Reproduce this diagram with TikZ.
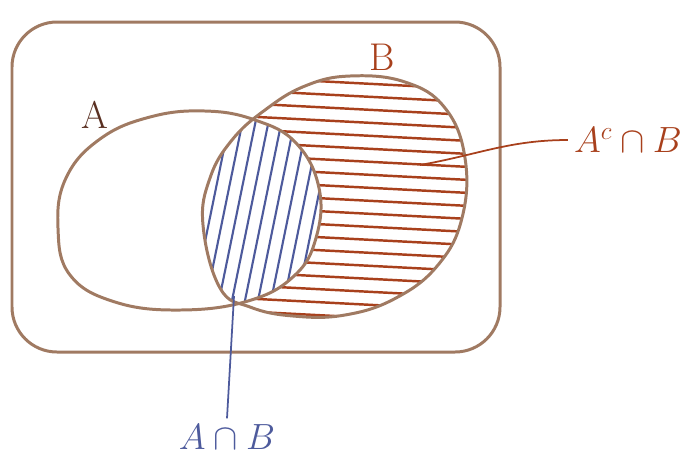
\documentclass[tikz,border=0pt]{standalone}
\usepackage{tikz}
\usetikzlibrary{arrows.meta,positioning}

\definecolor{penbrown}{HTML}{A07A62}
\definecolor{penred}{HTML}{A8401C}
\definecolor{penblue}{HTML}{4D5A9C}
\definecolor{pendark}{HTML}{5A3022}

\begin{document}
\begin{tikzpicture}[
    x=0.02cm, y=-0.02cm,
    every node/.style={font=\fontsize{22}{24}\selectfont},
    outline/.style={draw=penbrown, line width=1.7pt, line join=round},
    hatchred/.style={draw=penred, line width=1.4pt, line cap=round},
    hatchblue/.style={draw=penblue, line width=1.2pt, line cap=round},
    leader/.style={line width=1pt},
    setA/.style={insert path={plot[smooth cycle, tension=0.7] coordinates {(58,228) (66,178) (100,139) (150,117) (205,111) (255,120) (296,143) (319,188) (316,238) (294,276) (248,301) (180,310) (115,302) (70,275)}}},
    setB/.style={insert path={plot[smooth cycle, tension=0.7] coordinates {(203,225) (210,178) (232,140) (265,110) (305,86) (350,76) (405,82) (445,108) (465,158) (462,218) (438,265) (396,298) (345,315) (293,316) (250,307) (220,288)}}}
]
\useasboundingbox (0,0) rectangle (699,461);
% universe
\draw[outline, rounded corners=0.9cm] (12,22) rectangle (500,352);
% B without A
\begin{scope}
  \clip[setB];
  \begin{scope}[even odd rule]
    \clip (0,0) rectangle (699,461) [setA];
    \foreach \y in {62,75,...,330}
      \draw[hatchred] (200,\y) -- (470,\y+14);
  \end{scope}
\end{scope}
% A and B
\begin{scope}
  \clip[setA];
  \clip[setB];
  \foreach \x in {150,163,...,320}
    \draw[hatchblue] (\x,320) -- (\x+45,100);
\end{scope}
\draw[outline][setA];
\draw[outline][setB];
% labels
\node[text=pendark] (labA) at (95,115) {A};
\node[text=penred] (labB) at (382,57) {B};
\node[text=penred] (labAcB) at (628,140) {$A^{c}\cap B$};
\node[text=penblue] (labAB) at (227,437) {$A\cap B$};
\coordinate (ptAcB) at (420,165);
\coordinate (ptAB) at (234,296);
\draw[leader, draw=penred] (labAcB.west) to[out=180, in=10] (ptAcB);
\draw[leader, draw=penblue] (labAB.north) -- (ptAB);
\end{tikzpicture}
\end{document}
